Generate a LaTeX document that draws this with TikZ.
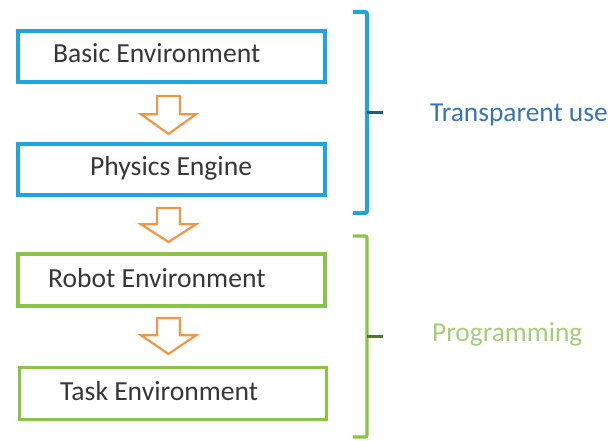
\documentclass[tikz,border=0pt]{standalone}
\usepackage{fontspec}
\setmainfont{Carlito}
\begin{document}
\begin{tikzpicture}[x=1pt,y=-1pt,
  bluebox/.style={draw=boxblue,line width=4pt,minimum width=307pt,minimum height=51pt,inner sep=0pt},
  greenbox/.style={draw=boxgreen,line width=3.6pt,minimum width=307pt,minimum height=52pt,inner sep=0pt},
  boxtext/.style={anchor=base west,inner sep=0pt,font=\fontsize{27.6}{30}\selectfont,text=txtgray},
  blockarrow/.style={draw=arroworange,line width=2.2pt,fill=white,line join=miter},
  bluebrace/.style={draw=boxblue,line width=4pt,rounded corners=2pt},
  greenbrace/.style={draw=boxgreen,line width=3.4pt,rounded corners=2pt},
  tick/.style={line width=3pt},
  sidelabel/.style={anchor=base west,inner sep=0pt,font=\fontsize{27.4}{30}\selectfont}]
\definecolor{boxblue}{RGB}{30,165,222}
\definecolor{boxgreen}{RGB}{138,196,70}
\definecolor{arroworange}{RGB}{240,150,70}
\definecolor{txtgray}{RGB}{55,55,55}
\definecolor{labelblue}{RGB}{55,115,185}
\definecolor{labelgreen}{RGB}{165,205,120}
\useasboundingbox (0,0) rectangle (610,441);
% boxes
\node[bluebox] (basic) at (171.5,57) {};
\node[bluebox] (physics) at (171.5,169.5) {};
\node[greenbox] (robot) at (171.5,280) {};
\node[greenbox] (task) at (173,393.5) {};
% box texts
\node[boxtext] (tbasic) at (53,63) {Basic Environment};
\node[boxtext] (tphysics) at (90,175) {Physics Engine};
\node[boxtext] (trobot) at (48,287) {Robot Environment};
\node[boxtext] (ttask) at (60,400) {Task Environment};
% block arrows
\newcommand\myblockarrow[2]{%
  \draw[blockarrow] (157,#1) -- (180,#1) -- (180,{#1+0.48*(#2-#1)}) -- (196,{#1+0.48*(#2-#1)})
    -- (168.5,#2) -- (141,{#1+0.48*(#2-#1)}) -- (157,{#1+0.48*(#2-#1)}) -- cycle;}
\myblockarrow{96}{134}
\myblockarrow{208}{242}
\myblockarrow{318}{354}
% braces
\coordinate (b1t) at (353,12);
\coordinate (b1b) at (353,213);
\coordinate (b1m) at (367,113);
\draw[bluebrace] (b1t) -- (367,12) -- (367,213) -- (b1b);
\draw[tick,draw=boxblue!60!black] (b1m) -- (383,113);
\coordinate (b2t) at (353,236);
\coordinate (b2b) at (353,437);
\coordinate (b2m) at (367,336);
\draw[greenbrace] (b2t) -- (367,236) -- (367,437) -- (b2b);
\draw[tick,draw=boxgreen!60!black] (b2m) -- (383,336);
% side labels
\node[sidelabel,text=labelblue] (ltrans) at (430,122) {Transparent use};
\node[sidelabel,text=labelgreen] (lprog) at (432,341) {Programming};
\end{tikzpicture}
\end{document}
